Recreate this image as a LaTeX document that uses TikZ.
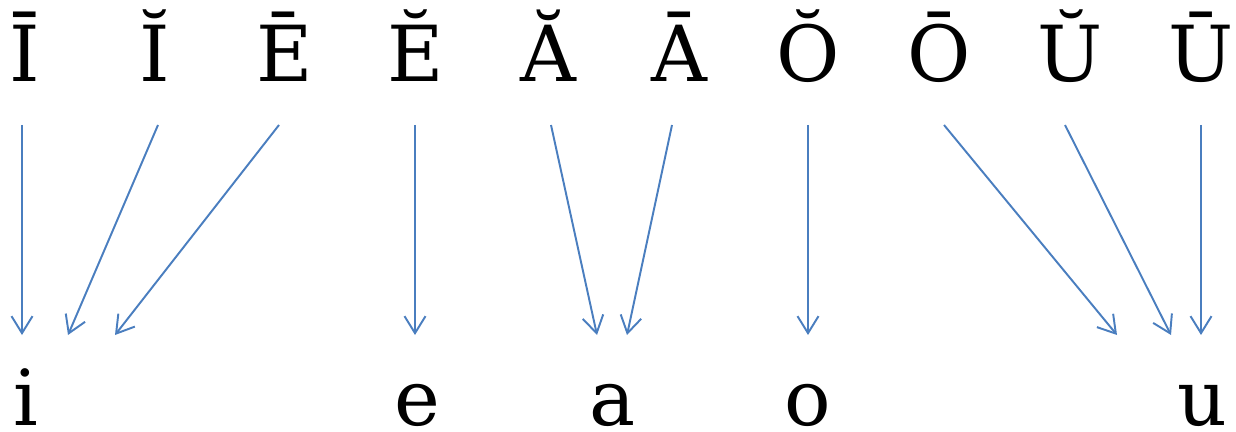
\documentclass[tikz,border=0pt]{standalone}
\usepackage{fontspec}
\setmainfont{DejaVu Serif}
\usetikzlibrary{arrows.meta}
\definecolor{vowel-blue}{HTML}{4A7EBF}

\begin{document}
\begin{tikzpicture}[x=0.02cm, y=-0.02cm,
      every node/.style={font=\fontsize{44}{50}\selectfont, anchor=base, inner sep=0pt},
      merge/.style={draw=vowel-blue, line width=1.1pt,
        -{Straight Barb[length=0.34cm, width=0.42cm]}}]
    \useasboundingbox (0,0) rectangle (1236,432);

    % marked vowels (top row)
    \foreach \name/\x/\ch in {Ibar/25/Ī, Ibrv/155/Ĭ, Ebar/285/Ē, Ebrv/416/Ĕ,
        Abrv/548/Ă, Abar/679/Ā, Obrv/808/Ŏ, Obar/939/Ō, Ubrv/1070/Ŭ, Ubar/1201/Ū} {
      \node (\name) at (\x,82) {\ch};
    }

    % plain vowels (bottom row)
    \node (i) at (26,425) {i};
    \node (e) at (417,425) {e};
    \node (a) at (613,425) {a};
    \node (o) at (808,425) {o};
    \node (u) at (1202,425) {u};

    % arrow tails just under the top row, heads just over the bottom row
    \foreach \i/\x in {1/22, 2/158, 3/279, 4/415, 5/551, 6/672, 7/808, 8/944, 9/1065, 10/1201} {
      \coordinate (t\i) at (\x,125);
    }
    \foreach \i/\x in {1/22, 2/68, 3/115, 4/415, 5/597, 6/627, 7/808, 8/1117, 9/1171, 10/1201} {
      \coordinate (h\i) at (\x,335);
    }
    \foreach \i in {1,...,10} {
      \draw[merge] (t\i) -- (h\i);
    }
  \end{tikzpicture}
\end{document}
